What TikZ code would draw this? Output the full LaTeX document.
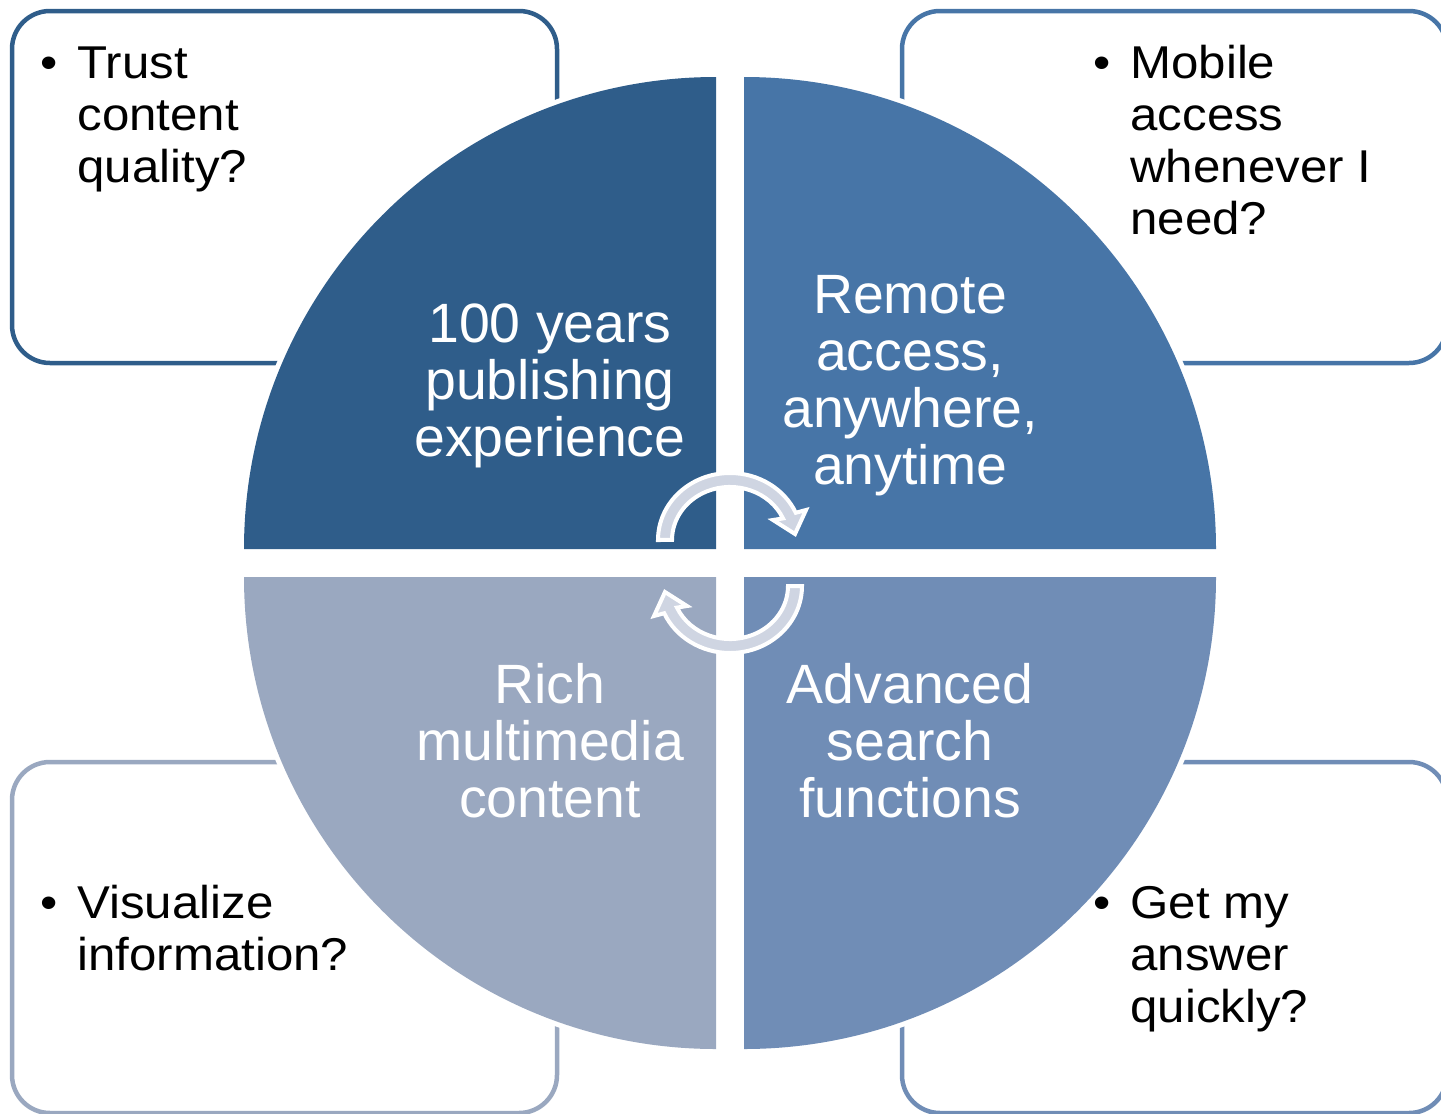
\documentclass[tikz,border=0pt]{standalone}
\usepackage{fontspec}
\setmainfont{Liberation Sans}
\newfontfamily\boxfont[FakeStretch=1.07]{Liberation Sans}
\definecolor{qTL}{RGB}{47,93,138}
\definecolor{qTR}{RGB}{71,117,167}
\definecolor{qBR}{RGB}{112,141,182}
\definecolor{qBL}{RGB}{154,168,192}
\definecolor{arrowfill}{RGB}{207,213,226}
\begin{document}
\begin{tikzpicture}[x=0.5pt,y=-0.5pt,
  qbox/.style={rounded corners=19pt, line width=2.25pt},
  halo/.style={draw=white, line width=5pt},
  qlabel/.style={text=white, align=center, anchor=base, inner sep=0pt,
    font=\fontsize{27.7pt}{28.5pt}\selectfont},
  blabel/.style={text=black, align=left, anchor=base west, inner sep=0pt,
    font=\boxfont\fontsize{23pt}{26pt}\selectfont},
  cyc/.style={fill=arrowfill, draw=white, line width=2pt, line join=miter}]
\useasboundingbox (0,0) rectangle (1441,1114);
\clip (0,0) rectangle (1441,1114);

% outer boxes
\draw[qbox, draw=qTL] (12,11) rectangle (557,363);
\draw[qbox, draw=qTR] (902,11) rectangle (1447,363);
\draw[qbox, draw=qBL] (12,762) rectangle (557,1113);
\draw[qbox, draw=qBR] (902,762) rectangle (1447,1113);

% quadrants: white halo first, then fill
\path[halo] (716,549) -- (244,549) arc[start angle=180,end angle=270,radius=472] -- cycle;
\path[halo] (744,549) -- (744,77) arc[start angle=270,end angle=360,radius=472] -- cycle;
\path[halo] (744,577) -- (1216,577) arc[start angle=0,end angle=90,radius=472] -- cycle;
\path[halo] (716,577) -- (716,1049) arc[start angle=90,end angle=180,radius=472] -- cycle;
\fill[qTL] (716,549) -- (244,549) arc[start angle=180,end angle=270,radius=472] -- cycle;
\fill[qTR] (744,549) -- (744,77) arc[start angle=270,end angle=360,radius=472] -- cycle;
\fill[qBR] (744,577) -- (1216,577) arc[start angle=0,end angle=90,radius=472] -- cycle;
\fill[qBL] (716,577) -- (716,1049) arc[start angle=90,end angle=180,radius=472] -- cycle;

% circular arrows
\path[cyc] (658,540) arc[start angle=180,end angle=336,x radius=72,y radius=67]
  -- (806,510) -- (795,534) -- (773,520) -- (783,518.4)
  arc[start angle=336,end angle=180,x radius=58,y radius=53] -- cycle;
\begin{scope}[rotate around={180:(730,563)}]
\path[cyc] (658,540) arc[start angle=180,end angle=336,x radius=72,y radius=67]
  -- (806,510) -- (795,534) -- (773,520) -- (783,518.4)
  arc[start angle=336,end angle=180,x radius=58,y radius=53] -- cycle;
\end{scope}

% quadrant labels (anchor = baseline of last line)
\node[qlabel] (tltext) at (550,456) {100 years\\publishing\\experience};
\node[qlabel] (trtext) at (910,484) {Remote\\access,\\anywhere,\\anytime};
\node[qlabel] (bltext) at (550,817) {Rich\\multimedia\\content};
\node[qlabel] (brtext) at (910,817) {Advanced\\search\\functions};

% box labels
\node[blabel] (tlq) at (77,182) {\llap{\textbullet\hspace{10pt}}Trust\\content\\quality?};
\node[blabel] (trq) at (1130,234) {\llap{\textbullet\hspace{10pt}}Mobile\\access\\whenever I\\need?};
\node[blabel] (blq) at (77,970) {\llap{\textbullet\hspace{10pt}}Visualize\\information?};
\node[blabel] (brq) at (1130,1022) {\llap{\textbullet\hspace{10pt}}Get my\\answer\\quickly?};
\end{tikzpicture}
\end{document}
